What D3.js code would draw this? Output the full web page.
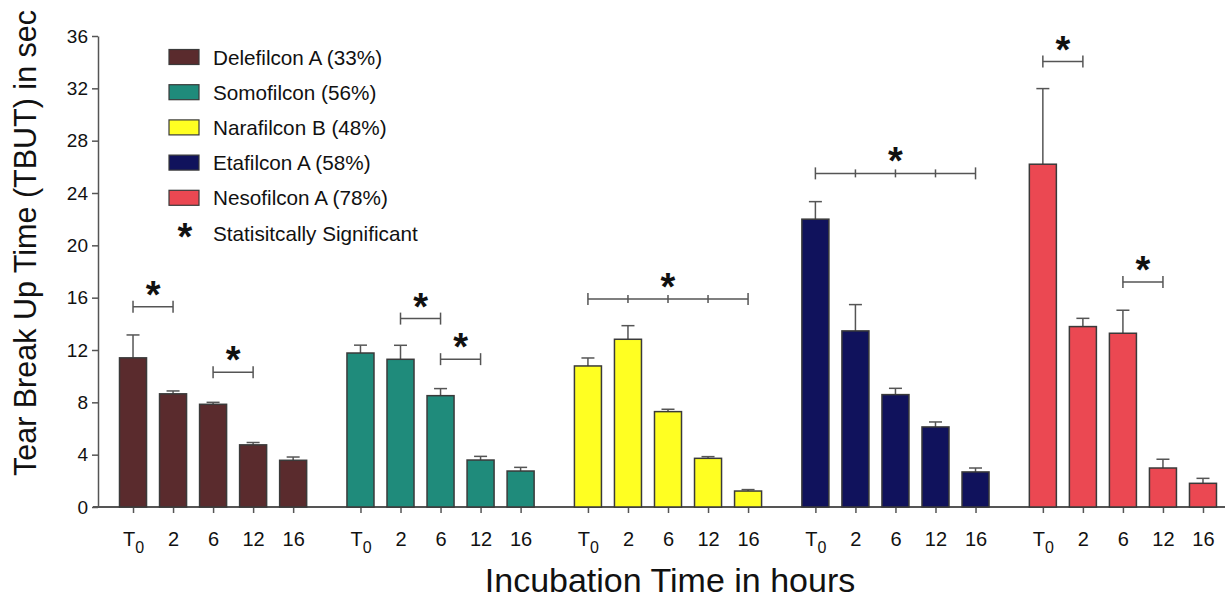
<!DOCTYPE html>
<html>
<head>
<meta charset="utf-8">
<script src="https://cdn.jsdelivr.net/npm/d3@7"></script>
<style>
  body { margin: 0; background: #fff; }
  svg { font-family: "Liberation Sans", Arial, sans-serif; }
</style>
</head>
<body>
<svg id="chart"></svg>
<script>
const width = 1230;
const height = 600;

// lenses (legend labels) and their colours
const lenses = ["Delefilcon A (33%)", "Somofilcon (56%)", "Narafilcon B (48%)", "Etafilcon A (58%)", "Nesofilcon A (78%)"];
const lensColors = ["#5A2B2D", "#1F8B7B", "#FFFF22", "#10125C", "#EB4852"];

// incubation time categories
const times = ["T0", "2", "6", "12", "16"];

// mean TBUT (sec) per lens
const delefilconA = [11.4, 8.65, 7.85, 4.75, 3.57];
const somofilcon  = [11.77, 11.29, 8.51, 3.59, 2.75];
const narafilconB = [10.78, 12.82, 7.29, 3.72, 1.22];
const etafilconA  = [22.0, 13.46, 8.59, 6.12, 2.68];
const nesofilconA = [26.2, 13.79, 13.28, 2.98, 1.81];

// error (upper whisker) per lens
const delefilconErr = [1.75, 0.22, 0.15, 0.18, 0.25];
const somofilconErr = [0.6, 1.07, 0.54, 0.28, 0.28];
const narafilconErr = [0.61, 1.04, 0.18, 0.13, 0.11];
const etafilconErr  = [1.34, 2.01, 0.48, 0.38, 0.3];
const nesofilconErr = [5.78, 0.63, 1.76, 0.67, 0.38];

// y ticks
const yTicks = [0, 4, 8, 12, 16, 20, 24, 28, 32, 36];

// significance brackets: [lens index, first time index, last time index, level in sec]
const sigBrackets = [
  [0, 0, 1, 15.3],
  [0, 2, 3, 10.3],
  [1, 1, 2, 14.4],
  [1, 2, 3, 11.3],
  [2, 0, 4, 15.9],
  [3, 0, 4, 25.5],
  [4, 0, 1, 34.05],
  [4, 2, 3, 17.2]
];

const means = [delefilconA, somofilcon, narafilconB, etafilconA, nesofilconA];
const errs = [delefilconErr, somofilconErr, narafilconErr, etafilconErr, nesofilconErr];

const rows = [];
means.forEach((vals, g) => vals.forEach((v, i) => {
  rows.push({ g, t: times[i], key: g + "|" + times[i], value: v, err: errs[g][i] });
}));

const svg = d3.select("#chart").attr("width", width).attr("height", height);

const y = d3.scaleLinear().domain([0, 36]).range([507, 36]);

const xGroup = d3.scaleBand()
  .domain(d3.range(lenses.length))
  .range([113, 1223])
  .paddingInner(0.12);

const xTime = d3.scaleBand()
  .domain(times)
  .range([0, xGroup.bandwidth()])
  .paddingInner(0.325)
  .paddingOuter(0.1625);

const center = (g, t) => xGroup(g) + xTime(t) + xTime.bandwidth() / 2;

// ordinal scale of all bar centres, for the bottom axis
const xAll = d3.scaleOrdinal()
  .domain(rows.map(d => d.key))
  .range(rows.map(d => center(d.g, d.t)));

const axisColor = "#555";

// y axis
const yAxis = svg.append("g")
  .attr("transform", "translate(98,0)")
  .call(d3.axisLeft(y).tickValues(yTicks).tickSize(6).tickSizeOuter(0).tickPadding(4));
yAxis.select(".domain").attr("stroke", axisColor).attr("stroke-width", 1.5);
yAxis.selectAll(".tick line").attr("stroke", axisColor).attr("stroke-width", 1.5);
yAxis.selectAll(".tick text").attr("font-size", 19).attr("fill", "#111");

// x axis
const xAxis = svg.append("g")
  .attr("transform", "translate(0,507)")
  .call(d3.axisBottom(xAll).tickSize(6).tickSizeOuter(0));
xAxis.select(".domain").remove();
xAxis.selectAll(".tick line").attr("stroke", axisColor).attr("stroke-width", 1.5);
xAxis.selectAll(".tick text")
  .attr("font-size", 20).attr("fill", "#111")
  .attr("y", 39).attr("dy", 0)
  .each(function(k) {
    const t = k.split("|")[1];
    const el = d3.select(this).text(null);
    if (t === "T0") {
      el.append("tspan").text("T");
      el.append("tspan").attr("font-size", 16).attr("dy", 7).text("0");
    } else {
      el.text(t);
    }
  });
svg.append("line")
  .attr("x1", 93).attr("x2", 1225)
  .attr("y1", y(0)).attr("y2", y(0))
  .attr("stroke", axisColor).attr("stroke-width", 2);

// error bars
const eb = svg.append("g").attr("stroke", axisColor).attr("stroke-width", 1.5);
eb.selectAll("line.v").data(rows).join("line").attr("class", "v")
  .attr("x1", d => xAll(d.key)).attr("x2", d => xAll(d.key))
  .attr("y1", d => y(d.value)).attr("y2", d => y(d.value + d.err));
eb.selectAll("line.cap").data(rows).join("line").attr("class", "cap")
  .attr("x1", d => xAll(d.key) - 6.5).attr("x2", d => xAll(d.key) + 6.5)
  .attr("y1", d => y(d.value + d.err)).attr("y2", d => y(d.value + d.err));

// bars
svg.append("g").selectAll("rect").data(rows).join("rect")
  .attr("x", d => xGroup(d.g) + xTime(d.t))
  .attr("width", xTime.bandwidth())
  .attr("y", d => y(d.value))
  .attr("height", d => y(0) - y(d.value))
  .attr("fill", d => lensColors[d.g])
  .attr("stroke", "#3a3a3a")
  .attr("stroke-width", 1.5);

// significance brackets
const sig = svg.append("g");
sigBrackets.forEach(([g, a, b, lvl]) => {
  const x1 = center(g, times[a]);
  const x2 = center(g, times[b]);
  const yy = y(lvl);
  const br = sig.append("g").attr("stroke", axisColor).attr("stroke-width", 1.5);
  br.append("line").attr("x1", x1).attr("x2", x2).attr("y1", yy).attr("y2", yy);
  [x1, x2].forEach(x => br.append("line").attr("x1", x).attr("x2", x).attr("y1", yy - 6).attr("y2", yy + 6));
  d3.range(a + 1, b).forEach(i => {
    const x = center(g, times[i]);
    br.append("line").attr("x1", x).attr("x2", x).attr("y1", yy - 4).attr("y2", yy + 4);
  });
  sig.append("text")
    .attr("x", (x1 + x2) / 2).attr("y", yy + 1)
    .attr("text-anchor", "middle")
    .attr("font-size", 38).attr("font-weight", "bold")
    .attr("fill", "#111")
    .text("*");
});

// legend
const legend = svg.append("g");
lenses.forEach((name, i) => {
  const cy = 57 + i * 35.2;
  legend.append("rect")
    .attr("x", 169).attr("y", cy - 7.5).attr("width", 30).attr("height", 15)
    .attr("fill", lensColors[i]).attr("stroke", "#3a3a3a").attr("stroke-width", 1.2);
  legend.append("text")
    .attr("x", 213).attr("y", cy + 7.5)
    .attr("font-size", 20.7).attr("fill", "#111")
    .text(name);
});
legend.append("text")
  .attr("x", 185).attr("y", 57 + 5 * 35.2 + 17)
  .attr("text-anchor", "middle")
  .attr("font-size", 38).attr("font-weight", "bold").attr("fill", "#111")
  .text("*");
legend.append("text")
  .attr("x", 213).attr("y", 57 + 5 * 35.2 + 7.5)
  .attr("font-size", 20.7).attr("fill", "#111")
  .text("Statisitcally Significant");

// axis titles
svg.append("text")
  .attr("transform", "translate(36,243) rotate(-90)")
  .attr("text-anchor", "middle")
  .attr("font-size", 30.5).attr("fill", "#111")
  .text("Tear Break Up Time (TBUT) in sec");

svg.append("text")
  .attr("x", 670).attr("y", 592)
  .attr("text-anchor", "middle")
  .attr("font-size", 34).attr("fill", "#111")
  .text("Incubation Time in hours");
</script>
</body>
</html>
